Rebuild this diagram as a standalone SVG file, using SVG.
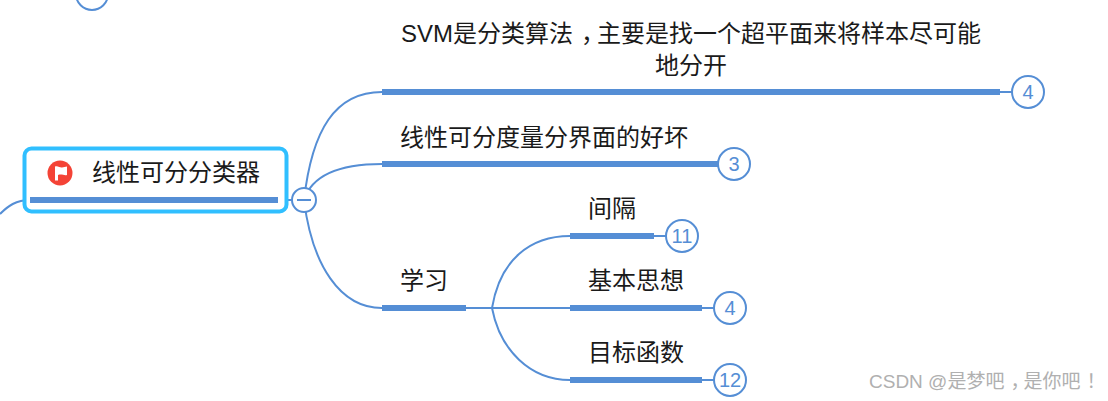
<svg xmlns="http://www.w3.org/2000/svg" width="1108" height="401" viewBox="0 0 1108 401">
<style>
.t{font-family:"Liberation Sans","Noto Sans CJK SC",sans-serif;font-size:24px;fill:#1a1a1a;text-anchor:middle}
.bar{fill:#558ed5}
.l{fill:none;stroke:#558ed5;stroke-width:2}
.c{fill:#fff;stroke:#558ed5;stroke-width:2}
.n{font-family:"Liberation Sans",sans-serif;font-size:20px;fill:#558ed5;text-anchor:middle}
</style>
<rect width="1108" height="401" fill="#fff"/>
<g id="connectors">
<path class="l" d="M0 214C8 206 16 200 30 200"/>
<path class="l" d="M278 200H304"/>
<path class="l" d="M304 200C312 130 335 92 382 92"/>
<path class="l" d="M304 200C312 175 340 164 382 164"/>
<path class="l" d="M304 200C312 265 340 308 382 308"/>
<path class="l" d="M466 308H570"/>
<path class="l" d="M492 308C500 260 530 236 570 236"/>
<path class="l" d="M492 308C500 350 530 380 570 380"/>
<path class="l" d="M1000 92H1012"/>
<path class="l" d="M654 236H666"/>
<path class="l" d="M702 308H714"/>
<path class="l" d="M702 380H714"/>
</g>
<g id="node-partial"><circle class="c" cx="92" cy="-6" r="16"/></g>
<g id="node-root">
<rect x="24.500" y="148.500" width="262" height="63" rx="7" fill="#fff" stroke="#30bfff" stroke-width="4"/>
<rect class="bar" x="30" y="197" width="248" height="6"/>
<circle cx="60" cy="173" r="12.500" fill="#f44336"/>
<path d="M55 166.500C58 165.500 60 168 62 167.500L67 166.500V175C64 176 62 173.500 58 175V180.500H55Z" fill="#fff"/>
<path d="M58 169.500H61.500V173H58Z" fill="#fff"/>
<text class="t" x="176" y="181">线性可分分类器</text>
<circle class="c" cx="304" cy="200" r="12"/>
<path d="M297 200H311" stroke="#558ed5" stroke-width="2"/>
</g>
<g id="node-svm">
<text class="t" x="691" y="42">SVM是分类算法<tspan dx="8">，</tspan><tspan dx="-8">主要是找一个超平面来将样本尽可能</tspan></text>
<text class="t" x="691" y="74">地分开</text>
<rect class="bar" x="382" y="89" width="618" height="6"/>
<circle class="c" cx="1028" cy="92" r="16"/>
<text class="n" x="1028" y="99">4</text>
</g>
<g id="node-measure">
<text class="t" x="544" y="146">线性可分度量分界面的好坏</text>
<rect class="bar" x="382" y="161" width="336" height="6"/>
<circle class="c" cx="734" cy="164" r="16"/>
<text class="n" x="734" y="171">3</text>
</g>
<g id="node-learn">
<text class="t" x="424" y="289">学习</text>
<rect class="bar" x="382" y="305" width="84" height="6"/>
</g>
<g id="node-gap">
<text class="t" x="612" y="217">间隔</text>
<rect class="bar" x="570" y="233" width="84" height="6"/>
<circle class="c" cx="682" cy="236" r="16"/>
<text class="n" x="682" y="243">11</text>
</g>
<g id="node-idea">
<text class="t" x="636" y="289">基本思想</text>
<rect class="bar" x="570" y="305" width="132" height="6"/>
<circle class="c" cx="730" cy="308" r="16"/>
<text class="n" x="730" y="315">4</text>
</g>
<g id="node-obj">
<text class="t" x="636" y="361">目标函数</text>
<rect class="bar" x="570" y="377" width="132" height="6"/>
<circle class="c" cx="730" cy="380" r="16"/>
<text class="n" x="730" y="387">12</text>
</g>
<text x="869" y="388" font-family="'Liberation Sans','Noto Sans CJK SC',sans-serif" font-size="19" fill="#b0b0b0">CSDN @是梦吧<tspan dx="6">，</tspan><tspan dx="-6">是你吧</tspan><tspan dx="6">！</tspan></text>
</svg>
